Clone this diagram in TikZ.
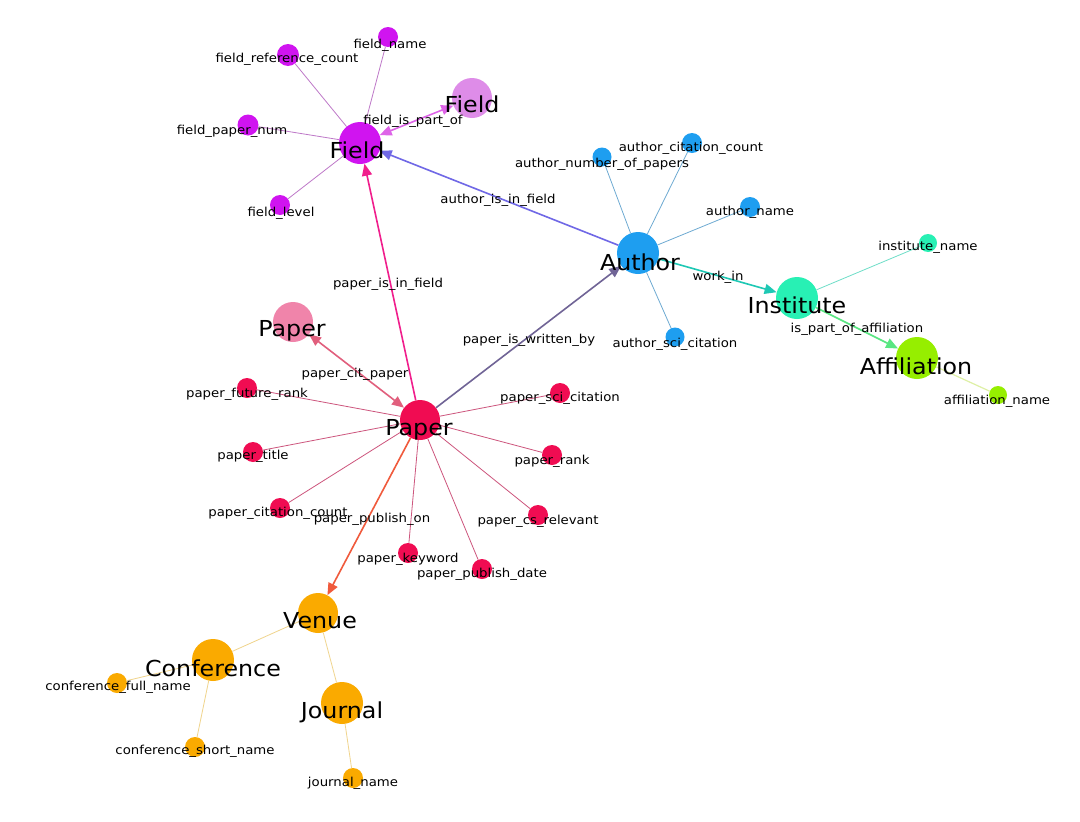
\documentclass[tikz,border=0pt]{standalone}
\usepackage{fontspec}
\setmainfont{DejaVu Sans}[FakeStretch=1.08]
\usetikzlibrary{arrows.meta}
\definecolor{cField}{RGB}{208,20,240}
\definecolor{cField2}{RGB}{222,140,232}
\definecolor{cAuthor}{RGB}{30,158,240}
\definecolor{cInst}{RGB}{40,240,180}
\definecolor{cAff}{RGB}{150,238,0}
\definecolor{cPaper}{RGB}{240,12,82}
\definecolor{cPaper2}{RGB}{240,132,170}
\definecolor{cVenue}{RGB}{250,170,0}
\definecolor{eField}{RGB}{190,120,200}
\definecolor{eAuthor}{RGB}{110,170,210}
\definecolor{ePaper}{RGB}{205,85,125}
\definecolor{eVenue}{RGB}{240,212,140}
\definecolor{eInst}{RGB}{110,222,200}
\definecolor{eAff}{RGB}{222,240,165}
\definecolor{eAuthField}{RGB}{112,104,230}
\definecolor{eWritten}{RGB}{112,100,150}
\definecolor{ePaperField}{RGB}{240,30,140}
\definecolor{eCit}{RGB}{225,95,125}
\definecolor{eFieldPart}{RGB}{222,100,232}
\definecolor{eWork}{RGB}{30,200,180}
\definecolor{eAffPart}{RGB}{90,230,130}
\definecolor{ePub}{RGB}{240,90,60}
\tikzset{
  dot/.style={circle,inner sep=0pt,minimum size=#1},
  big/.style={font=\fontsize{22}{25}\selectfont,inner sep=0pt},
  small/.style={font=\fontsize{12.3}{14}\selectfont,inner sep=0pt},
  attr/.style={line width=0.8pt},
  rel/.style={line width=1.6pt,-{Triangle[length=12pt,width=10pt]}},
  birel/.style={line width=1.6pt,{Triangle[length=12pt,width=10pt]}-{Triangle[length=12pt,width=10pt]}}
}
\begin{document}
\begin{tikzpicture}[x=1pt,y=-1pt]
\useasboundingbox[fill=white] (0,0) rectangle (1080,822);
% ---- circles
\node[dot=42pt,fill=cField] (field) at (360,143) {};
\node[dot=40pt,fill=cField2] (field2) at (472,98) {};
\node[dot=20pt,fill=cField] (fname) at (388,37) {};
\node[dot=22pt,fill=cField] (fref) at (288,55) {};
\node[dot=21pt,fill=cField] (fpap) at (248,125) {};
\node[dot=20pt,fill=cField] (flev) at (280,205) {};
\node[dot=42pt,fill=cAuthor] (author) at (638,253) {};
\node[dot=19pt,fill=cAuthor] (anum) at (602,157) {};
\node[dot=20pt,fill=cAuthor] (acit) at (692,143) {};
\node[dot=20pt,fill=cAuthor] (aname) at (750,207) {};
\node[dot=19pt,fill=cAuthor] (asci) at (675,337) {};
\node[dot=42pt,fill=cInst] (inst) at (797,298) {};
\node[dot=18pt,fill=cInst] (iname) at (928,243) {};
\node[dot=42pt,fill=cAff] (aff) at (917,358) {};
\node[dot=18pt,fill=cAff] (affname) at (998,395) {};
\node[dot=40pt,fill=cPaper] (paper) at (420,420) {};
\node[dot=40pt,fill=cPaper2] (paper2) at (293,322) {};
\node[dot=20pt,fill=cPaper] (pfut) at (247,388) {};
\node[dot=20pt,fill=cPaper] (ptit) at (253,452) {};
\node[dot=20pt,fill=cPaper] (pcc) at (280,508) {};
\node[dot=20pt,fill=cPaper] (pkey) at (408,553) {};
\node[dot=20pt,fill=cPaper] (pdate) at (482,569) {};
\node[dot=20pt,fill=cPaper] (pcs) at (538,515) {};
\node[dot=20pt,fill=cPaper] (prank) at (552,455) {};
\node[dot=20pt,fill=cPaper] (psci) at (560,393) {};
\node[dot=40pt,fill=cVenue] (venue) at (318,613) {};
\node[dot=42pt,fill=cVenue] (conf) at (213,660) {};
\node[dot=20pt,fill=cVenue] (cfull) at (117,683) {};
\node[dot=20pt,fill=cVenue] (cshort) at (195,747) {};
\node[dot=42pt,fill=cVenue] (journal) at (342,703) {};
\node[dot=20pt,fill=cVenue] (jname) at (353,778) {};
% ---- edges
\draw[attr,eField] (field) -- (fname);
\draw[attr,eField] (field) -- (fref);
\draw[attr,eField] (field) -- (fpap);
\draw[attr,eField] (field) -- (flev);
\draw[birel,eFieldPart] (field) -- (field2);
\draw[attr,eAuthor] (author) -- (anum);
\draw[attr,eAuthor] (author) -- (acit);
\draw[attr,eAuthor] (author) -- (aname);
\draw[attr,eAuthor] (author) -- (asci);
\draw[rel,eAuthField] (author) -- (field);
\draw[rel,eWork] (author) -- (inst);
\draw[attr,eInst] (inst) -- (iname);
\draw[rel,eAffPart] (inst) -- (aff);
\draw[attr,eAff,line width=1.2pt] (aff) -- (affname);
\draw[attr,ePaper] (paper) -- (pfut);
\draw[attr,ePaper] (paper) -- (ptit);
\draw[attr,ePaper] (paper) -- (pcc);
\draw[attr,ePaper] (paper) -- (pkey);
\draw[attr,ePaper] (paper) -- (pdate);
\draw[attr,ePaper] (paper) -- (pcs);
\draw[attr,ePaper] (paper) -- (prank);
\draw[attr,ePaper] (paper) -- (psci);
\draw[birel,eCit] (paper) -- (paper2);
\draw[rel,ePaperField] (paper) -- (field);
\draw[rel,eWritten] (paper) -- (author);
\draw[rel,ePub] (paper) -- (venue);
\draw[attr,eVenue] (venue) -- (conf);
\draw[attr,eVenue] (venue) -- (journal);
\draw[attr,eVenue] (conf) -- (cfull);
\draw[attr,eVenue] (conf) -- (cshort);
\draw[attr,eVenue] (journal) -- (jname);
% ---- node labels
\node[big] (fieldL) at (357,150) {Field};
\node[big] (field2L) at (472,104) {Field};
\node[small] (fnameL) at (390,45) {field\_name};
\node[small] (frefL) at (287,59) {field\_reference\_count};
\node[small] (fpapL) at (232,131) {field\_paper\_num};
\node[small] (flevL) at (281,213) {field\_level};
\node[big] (authorL) at (640,262) {Author};
\node[small] (anumL) at (602,164) {author\_number\_of\_papers};
\node[small] (acitL) at (691,148) {author\_citation\_count};
\node[small] (anameL) at (750,212) {author\_name};
\node[small] (asciL) at (675,344) {author\_sci\_citation};
\node[big] (instL) at (797,305) {Institute};
\node[small] (inameL) at (928,247) {institute\_name};
\node[big] (affL) at (916,366) {Affiliation};
\node[small] (affnameL) at (997,401) {affiliation\_name};
\node[big] (paperL) at (419,430) {Paper};
\node[big] (paper2L) at (292,331) {Paper};
\node[small] (pfutL) at (247,394) {paper\_future\_rank};
\node[small] (ptitL) at (253,456) {paper\_title};
\node[small] (pccL) at (278,513) {paper\_citation\_count};
\node[small] (pkeyL) at (408,559) {paper\_keyword};
\node[small] (pdateL) at (482,574) {paper\_publish\_date};
\node[small] (pcsL) at (538,521) {paper\_cs\_relevant};
\node[small] (prankL) at (552,461) {paper\_rank};
\node[small] (psciL) at (560,398) {paper\_sci\_citation};
\node[big] (venueL) at (320,621) {Venue};
\node[big] (confL) at (213,668) {Conference};
\node[small] (cfullL) at (118,687) {conference\_full\_name};
\node[small] (cshortL) at (195,751) {conference\_short\_name};
\node[big] (journalL) at (342,712) {Journal};
\node[small] (jnameL) at (353,783) {journal\_name};
% ---- edge labels
\node[small] (lFieldPart) at (413,121) {field\_is\_part\_of};
\node[small] (lAuthField) at (498,200) {author\_is\_in\_field};
\node[small] (lPaperField) at (388,284) {paper\_is\_in\_field};
\node[small] (lWritten) at (529,340) {paper\_is\_written\_by};
\node[small] (lWork) at (718,277) {work\_in};
\node[small] (lAffPart) at (857,329) {is\_part\_of\_affiliation};
\node[small] (lCit) at (355,374) {paper\_cit\_paper};
\node[small] (lPub) at (372,519) {paper\_publish\_on};
\end{tikzpicture}
\end{document}
